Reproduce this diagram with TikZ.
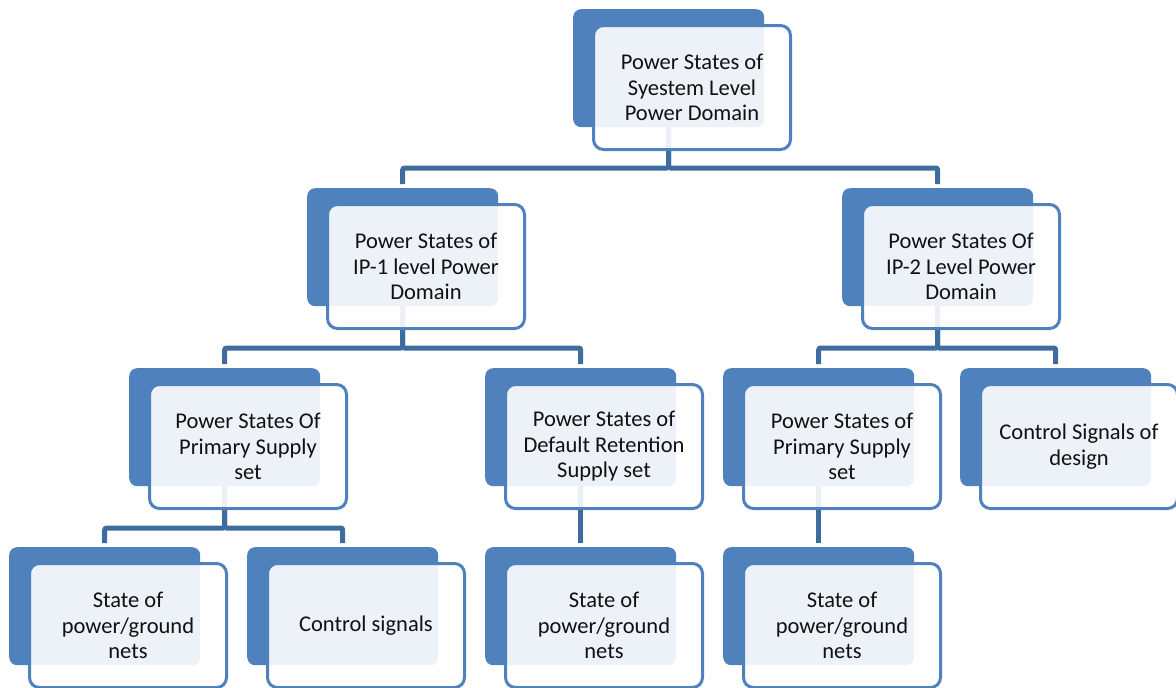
\documentclass[tikz,border=0pt]{standalone}
\usepackage{fontspec}
\setmainfont{Carlito}
\definecolor{backblue}{HTML}{4F81BD}
\definecolor{lineblue}{HTML}{3F6C9E}
\definecolor{textdark}{HTML}{111111}
\begin{document}
\begin{tikzpicture}[x=1pt,y=-1pt,
  backbox/.style={rectangle, rounded corners=8pt, fill=backblue, draw=none,
    minimum width=191pt, minimum height=118pt, inner sep=0pt, anchor=north west},
  frontbox/.style={rectangle, rounded corners=10pt, draw=backblue, line width=3pt,
    fill=white, fill opacity=0.9, text opacity=1, text=textdark,
    minimum width=197pt, minimum height=124pt, inner sep=1pt, anchor=north west,
    align=center, font=\fontsize{22.5}{25.5}\selectfont},
  conn/.style={draw=lineblue, line width=5pt, rounded corners=2pt, shorten >=4pt}]
\useasboundingbox (0,0) rectangle (1176,688);
% back rectangles
\node[backbox] (b1) at (573,9) {};
\node[backbox] (b2a) at (307,188) {};
\node[backbox] (b2b) at (842,188) {};
\node[backbox] (b3a) at (129,368) {};
\node[backbox] (b3b) at (485,368) {};
\node[backbox] (b3c) at (723,368) {};
\node[backbox] (b3d) at (960,368) {};
\node[backbox] (b4a) at (9,547) {};
\node[backbox] (b4b) at (247,547) {};
\node[backbox] (b4c) at (485,547) {};
\node[backbox] (b4d) at (723,547) {};
% bar levels
\coordinate (bar1) at (0,168);
\coordinate (bar2) at (0,348);
\coordinate (bar3) at (0,528);
% connectors
\draw[conn] (b1.south) -- (b1.south |- bar1) -| (b2a.north);
\draw[conn] (b1.south) -- (b1.south |- bar1) -| (b2b.north);
\draw[conn] (b2a.south) -- (b2a.south |- bar2) -| (b3a.north);
\draw[conn] (b2a.south) -- (b2a.south |- bar2) -| (b3b.north);
\draw[conn] (b2b.south) -- (b2b.south |- bar2) -| (b3c.north);
\draw[conn] (b2b.south) -- (b2b.south |- bar2) -| (b3d.north);
\draw[conn] (b3a.south) -- (b3a.south |- bar3) -| (b4a.north);
\draw[conn] (b3a.south) -- (b3a.south |- bar3) -| (b4b.north);
\draw[conn] (b3b.south) -- (b4c.north);
\draw[conn] (b3c.south) -- (b4d.north);
% front boxes
\node[frontbox] (f1) at ([shift={(19,15)}]b1.north west) {Power States of\\Syestem Level\\Power Domain};
\node[frontbox] (f2a) at ([shift={(19,15)}]b2a.north west) {Power States of\\IP-1 level Power\\Domain};
\node[frontbox] (f2b) at ([shift={(19,15)}]b2b.north west) {Power States Of\\IP-2 Level Power\\Domain};
\node[frontbox] (f3a) at ([shift={(19,15)}]b3a.north west) {Power States Of\\Primary Supply\\set};
\node[frontbox] (f3b) at ([shift={(19,15)}]b3b.north west) {Power States of\\Default Retention\\Supply set};
\node[frontbox] (f3c) at ([shift={(19,15)}]b3c.north west) {Power States of\\Primary Supply\\set};
\node[frontbox] (f3d) at ([shift={(19,15)}]b3d.north west) {Control Signals of\\design};
\node[frontbox] (f4a) at ([shift={(19,15)}]b4a.north west) {State of\\power/ground\\nets};
\node[frontbox] (f4b) at ([shift={(19,15)}]b4b.north west) {Control signals};
\node[frontbox] (f4c) at ([shift={(19,15)}]b4c.north west) {State of\\power/ground\\nets};
\node[frontbox] (f4d) at ([shift={(19,15)}]b4d.north west) {State of\\power/ground\\nets};
\end{tikzpicture}
\end{document}
